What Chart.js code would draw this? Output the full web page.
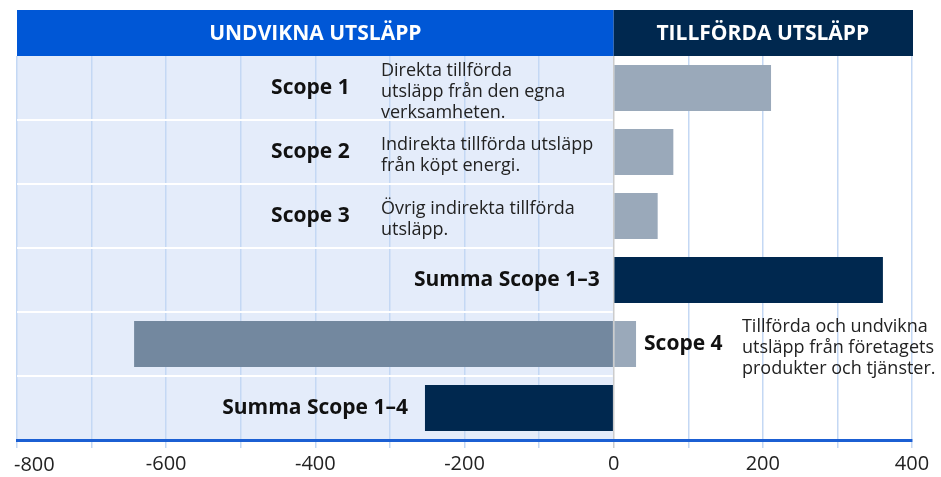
<!DOCTYPE html>
<html lang="sv">
<head>
<meta charset="utf-8">
<script src="https://cdn.jsdelivr.net/npm/chart.js@4"></script>
<style>
  html, body { margin: 0; padding: 0; background: #fff; }
  #wrap { width: 941px; height: 477px; }
</style>
</head>
<body>
<div id="wrap"><canvas id="chart"></canvas></div>
<script>
const categories = ['Scope 1', 'Scope 2', 'Scope 3', 'Summa Scope 1–3', 'Scope 4', 'Summa Scope 1–4'];
const addedValues = [211, 80, 59, null, 30, null];
const avoidedValues = [null, null, null, null, -643, null];
const totalValues = [null, null, null, 361, null, -253];
const descriptions = [
  ['Direkta tillförda', 'utsläpp från den egna', 'verksamheten.'],
  ['Indirekta tillförda utsläpp', 'från köpt energi.'],
  ['Övrig indirekta tillförda', 'utsläpp.'],
  [],
  ['Tillförda och undvikna', 'utsläpp från företagets', 'produkter och tjänster.'],
  [],
];
const headerLeft = 'UNDVIKNA UTSLÄPP';
const headerRight = 'TILLFÖRDA UTSLÄPP';
const xMin = -800;
const xMax = 400;

const FONT = '"Open Sans", "Noto Sans", sans-serif';
const TICK_FONT = { family: FONT, size: 20, lineHeight: 1 };

const panels = {
  id: 'panels',
  beforeDraw(chart) {
    const { ctx, chartArea: a, scales: { x } } = chart;
    const zero = x.getPixelForValue(0);
    ctx.save();
    ctx.fillStyle = '#e4ecfa';
    ctx.fillRect(a.left, a.top, zero - a.left, a.bottom - a.top);
    ctx.fillStyle = '#0057d6';
    ctx.fillRect(a.left, 10, zero - a.left, a.top - 10);
    ctx.fillStyle = '#00284f';
    ctx.fillRect(zero, 10, a.right - zero + 1, a.top - 10);
    ctx.fillStyle = '#fff';
    ctx.font = `bold 21px ${FONT}`;
    ctx.textAlign = 'center';
    ctx.textBaseline = 'middle';
    const hy = (10 + a.top) / 2 + 1;
    ctx.fillText(headerLeft, (a.left + zero) / 2, hy);
    ctx.fillText(headerRight, (zero + a.right) / 2, hy);
    ctx.restore();
  },
  beforeDatasetsDraw(chart) {
    const { ctx, chartArea: a, scales: { x } } = chart;
    const zero = x.getPixelForValue(0);
    const rowH = (a.bottom - a.top) / categories.length;
    ctx.save();
    ctx.strokeStyle = '#ffffff';
    ctx.lineWidth = 2;
    for (let i = 1; i < categories.length; i++) {
      const y = Math.round(a.top + rowH * i);
      ctx.beginPath();
      ctx.moveTo(a.left, y);
      ctx.lineTo(zero - 1, y);
      ctx.stroke();
    }
    ctx.restore();
  },
  afterDatasetsDraw(chart) {
    const { ctx, chartArea: a, scales: { x, y } } = chart;
    const zero = x.getPixelForValue(0);
    ctx.save();
    ctx.textBaseline = 'middle';
    categories.forEach((name, i) => {
      const cy = y.getPixelForValue(i);
      ctx.fillStyle = '#111';
      ctx.font = `bold 21px ${FONT}`;
      let descX = null;
      if (i < 3) {
        ctx.textAlign = 'right';
        ctx.fillText(name, x.getPixelForValue(-354), cy);
        descX = x.getPixelForValue(-312);
      } else if (i === 3) {
        ctx.textAlign = 'right';
        ctx.fillText(name, zero - 14, cy);
      } else if (i === 4) {
        ctx.textAlign = 'left';
        ctx.fillText(name, x.getPixelForValue(addedValues[i]) + 8, cy);
        descX = x.getPixelForValue(172);
      } else {
        ctx.textAlign = 'right';
        ctx.fillText(name, x.getPixelForValue(totalValues[i]) - 17, cy);
      }
      const lines = descriptions[i];
      if (descX !== null && lines.length) {
        ctx.fillStyle = '#222';
        ctx.font = `18px ${FONT}`;
        ctx.textAlign = 'left';
        const lh = 21;
        const start = cy + 3.5 - (lines.length - 1) * lh / 2;
        lines.forEach((line, k) => ctx.fillText(line, descX, start + k * lh));
      }
    });
    // first tick label is pushed inside the canvas, as in the original
    ctx.fillStyle = '#222';
    ctx.font = `20px ${FONT}`;
    ctx.textAlign = 'left';
    ctx.fillText(String(xMin), a.left - 3, x.top + 25);
    ctx.restore();
  },
};

const gridColor = (c) => (c.tick && c.tick.value === 0 ? '#cccccc' : '#c4d8f4');

new Chart(document.getElementById('chart'), {
  type: 'bar',
  data: {
    labels: categories,
    datasets: [
      { label: 'Tillförda', data: addedValues, backgroundColor: '#9aa9ba' },
      { label: 'Undvikna', data: avoidedValues, backgroundColor: '#73889f' },
      { label: 'Summa', data: totalValues, backgroundColor: '#00284f' },
    ],
  },
  options: {
    indexAxis: 'y',
    responsive: true,
    maintainAspectRatio: false,
    animation: false,
    layout: { padding: { top: 56, left: 17, right: 29, bottom: 0 } },
    datasets: { bar: { categoryPercentage: 1, barPercentage: 0.72, borderWidth: 0 } },
    plugins: { legend: { display: false }, tooltip: { enabled: false } },
    scales: {
      x: {
        stacked: true,
        min: xMin,
        max: xMax,
        afterFit(scale) {
          scale.paddingLeft = 0;
          scale.paddingRight = 0;
          scale.height = 37;
        },
        ticks: {
          stepSize: 100,
          autoSkip: false,
          maxRotation: 0,
          padding: 6,
          color: '#222',
          font: TICK_FONT,
          callback: (v) => (v % 200 === 0 && v !== xMin ? String(v) : ''),
        },
        grid: {
          color: gridColor,
          tickColor: gridColor,
          tickLength: 8,
          lineWidth: 1.5,
        },
        border: { color: '#1b5fd3', width: 3 },
      },
      y: {
        stacked: true,
        display: false,
      },
    },
  },
  plugins: [panels],
});
</script>
</body>
</html>
